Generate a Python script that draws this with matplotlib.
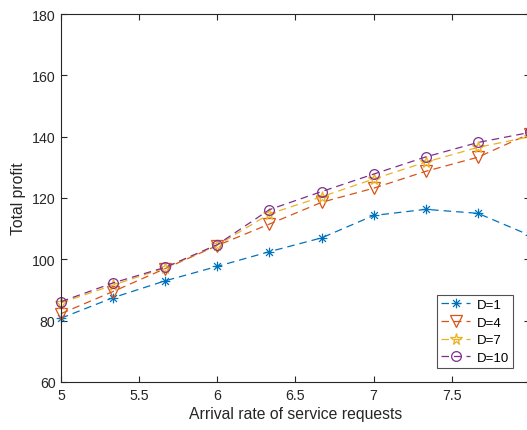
import matplotlib
matplotlib.use("Agg")
import matplotlib.pyplot as plt
import numpy as np
from matplotlib.path import Path

plt.rcParams['font.family'] = ['Liberation Sans', 'DejaVu Sans']

x = [5, 5.333, 5.667, 6, 6.333, 6.667, 7, 7.333, 7.667, 8]
d1 = [80.8, 87.5, 93.0, 97.7, 102.5, 107.0, 114.3, 116.3, 115.0, 107.8]
d4 = [82.3, 89.5, 97.0, 104.5, 111.5, 118.6, 123.2, 128.7, 133.3, 141.0]
d7 = [85.8, 91.6, 97.2, 104.6, 114.8, 120.4, 126.2, 131.7, 136.5, 140.0]
d10 = [86.2, 92.3, 97.4, 104.8, 116.2, 122.1, 127.8, 133.4, 138.1, 141.4]
labels = ['D=1', 'D=4', 'D=7', 'D=10']
xticks = [5, 5.5, 6, 6.5, 7, 7.5]
yticks = [60, 80, 100, 120, 140, 160, 180]

# MATLAB-style asterisk marker (+ and x combined)
verts = []
codes = []
for a in [0, 45, 90, 135]:
    r = np.deg2rad(a)
    verts += [(-np.cos(r), -np.sin(r)), (np.cos(r), np.sin(r))]
    codes += [Path.MOVETO, Path.LINETO]
asterisk = Path(verts, codes)

colors = ['#0072BD', '#D95319', '#EDB120', '#7E2F8E']
markers = [asterisk, 'v', '*', 'o']
msizes = [7, 8, 8.5, 7]

fig = plt.figure(figsize=(5.27, 4.31), dpi=100)
ax = fig.add_axes([61/527, 48/431, 469/527, 368/431])

for y, lab, c, m, ms in zip([d1, d4, d7, d10], labels, colors, markers, msizes):
    ax.plot(x, y, linestyle=(0, (6, 4)), color=c, linewidth=0.9, marker=m,
            markersize=ms, markerfacecolor='none', markeredgecolor=c,
            markeredgewidth=0.9, label=lab, clip_on=False)

ax.set_xlim(5, 8)
ax.set_ylim(60, 180)
ax.set_xticks(xticks)
ax.set_xticklabels([str(t) for t in xticks])
ax.set_yticks(yticks)
ax.tick_params(direction='in', top=True, right=True, length=4, width=0.8,
               colors='#262626', labelsize=10.2, labelcolor='#262626', pad=4)
for s in ax.spines.values():
    s.set_color('#262626')
    s.set_linewidth(0.8)

ax.set_xlabel('Arrival rate of service requests', fontsize=11.3, color='#262626', labelpad=3)
ax.set_ylabel('Total profit', fontsize=11.3, color='#262626', labelpad=4)

leg = ax.legend(loc='lower right', bbox_to_anchor=(0.964, 0.038),
                borderaxespad=0, fontsize=9.5, frameon=True, fancybox=False,
                edgecolor='#262626', handlelength=2.2, handletextpad=0.5,
                labelspacing=0.42, borderpad=0.3)
leg.get_frame().set_linewidth(0.8)

fig.savefig('out.png', dpi=100)
